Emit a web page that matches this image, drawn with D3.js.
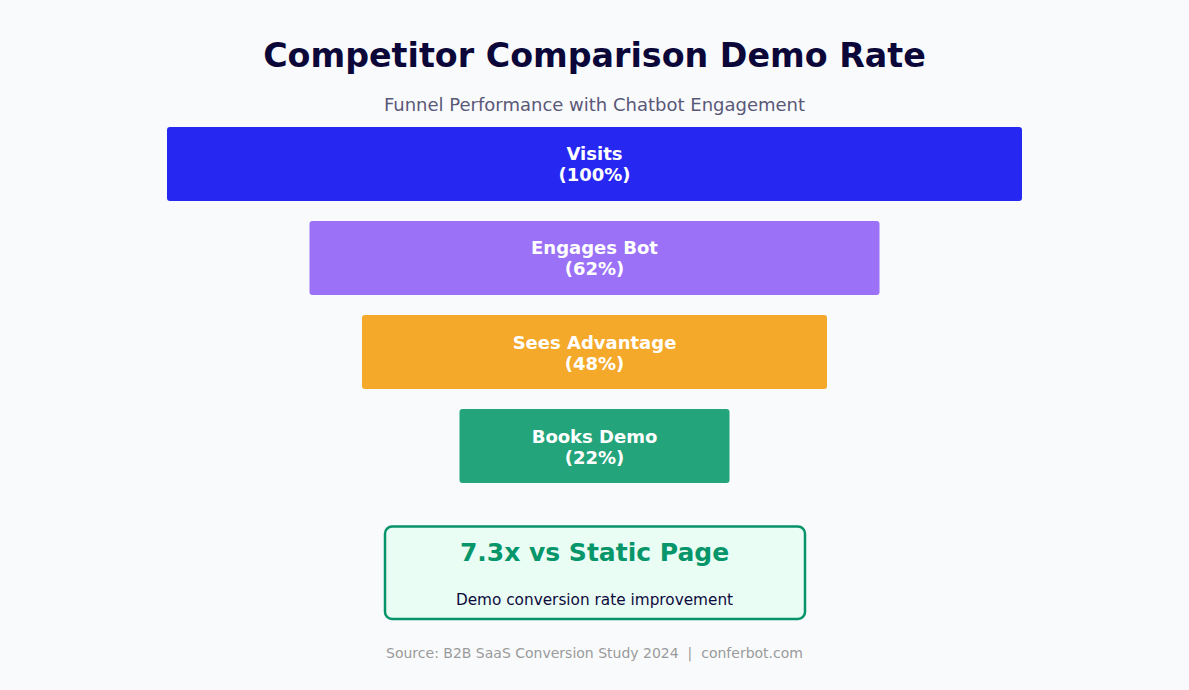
<!DOCTYPE html>
<html>
<head>
<meta charset="utf-8">
<script src="https://cdn.jsdelivr.net/npm/d3@7"></script>
<style>
  html, body { margin: 0; padding: 0; background: #f9fafc; }
  svg { display: block; font-family: "DejaVu Sans", sans-serif; }
</style>
</head>
<body>
<div id="chart"></div>
<script>
// funnel stages
const stages = ["Visits", "Engages Bot", "Sees Advantage", "Books Demo"]
const percents = [100, 62, 48, 22]
const colors = ["#2727f2", "#9a71f7", "#f5a92a", "#23a47b"]

const title = "Competitor Comparison Demo Rate"
const subtitle = "Funnel Performance with Chatbot Engagement"
const highlight = "7.3x vs Static Page"
const highlightNote = "Demo conversion rate improvement"
const source = "Source: B2B SaaS Conversion Study 2024  |  conferbot.com"

const width = 1189
const height = 690
const cx = width / 2

const svg = d3.select("#chart")
    .append("svg")
    .attr("width", width)
    .attr("height", height)

svg.append("rect")
    .attr("width", width)
    .attr("height", height)
    .attr("fill", "#f9fafc")

svg.append("text")
    .attr("x", cx)
    .attr("y", 67)
    .attr("text-anchor", "middle")
    .attr("font-size", 33.3)
    .attr("font-weight", "bold")
    .attr("fill", "#0b0839")
    .text(title)

svg.append("text")
    .attr("x", cx)
    .attr("y", 110.5)
    .attr("text-anchor", "middle")
    .attr("font-size", 18)
    .attr("fill", "#5a5878")
    .text(subtitle)

// bar width grows with the stage percentage
const w = d3.scaleLinear()
    .domain([0, 100])
    .range([105, 855])

const y = d3.scaleBand()
    .domain(stages)
    .range([127, 483])
    .paddingInner(0.213)
    .paddingOuter(0)

const rows = stages.map((s, i) => ({ stage: s, pct: percents[i], color: colors[i] }))

const g = svg.append("g")
    .selectAll("g")
    .data(rows)
    .enter()
    .append("g")

g.append("rect")
    .attr("x", d => cx - w(d.pct) / 2)
    .attr("y", d => y(d.stage))
    .attr("width", d => w(d.pct))
    .attr("height", y.bandwidth())
    .attr("rx", 3)
    .attr("fill", d => d.color)

g.append("text")
    .attr("x", cx)
    .attr("y", d => y(d.stage) + y.bandwidth() / 2 - 3.5)
    .attr("text-anchor", "middle")
    .attr("font-size", 18)
    .attr("font-weight", "bold")
    .attr("fill", "#ffffff")
    .text(d => d.stage)

g.append("text")
    .attr("x", cx)
    .attr("y", d => y(d.stage) + y.bandwidth() / 2 + 17.5)
    .attr("text-anchor", "middle")
    .attr("font-size", 18)
    .attr("font-weight", "bold")
    .attr("fill", "#ffffff")
    .text(d => "(" + d.pct + "%)")

// highlight box
svg.append("rect")
    .attr("x", 385)
    .attr("y", 526.5)
    .attr("width", 420)
    .attr("height", 92.5)
    .attr("rx", 7)
    .attr("fill", "#e9fdf4")
    .attr("stroke", "#07936a")
    .attr("stroke-width", 2.5)

svg.append("text")
    .attr("x", cx)
    .attr("y", 561)
    .attr("text-anchor", "middle")
    .attr("font-size", 25)
    .attr("font-weight", "bold")
    .attr("fill", "#069669")
    .text(highlight)

svg.append("text")
    .attr("x", cx)
    .attr("y", 604.5)
    .attr("text-anchor", "middle")
    .attr("font-size", 15.3)
    .attr("fill", "#0d0a3c")
    .text(highlightNote)

svg.append("text")
    .attr("x", cx)
    .attr("y", 657.5)
    .attr("text-anchor", "middle")
    .attr("font-size", 14)
    .attr("fill", "#9a9a9a")
    .attr("xml:space", "preserve")
    .style("white-space", "pre")
    .text(source)
</script>
</body>
</html>
